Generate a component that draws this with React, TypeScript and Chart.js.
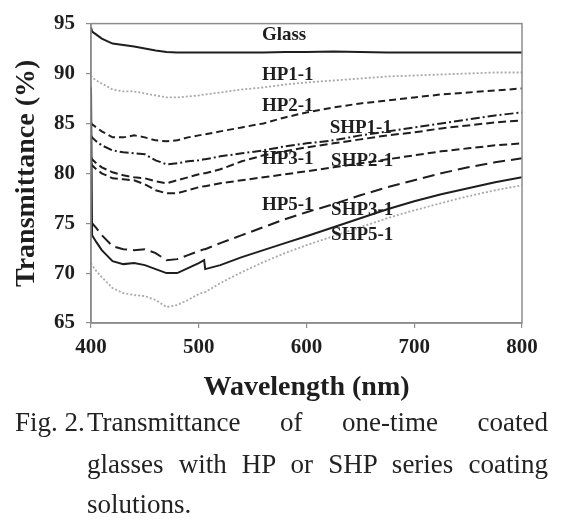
import React, { useEffect, useRef } from "react";
import { Chart, registerables } from "chart.js";

Chart.register(...registerables);

// ---- data ----
const wavelengths = [400, 401, 405, 410, 420, 430, 440, 450, 460, 470, 480, 490, 500, 505, 506, 520, 540, 560, 580, 600, 625, 650, 675, 700, 725, 750, 775, 800];

const glass = [94.6, 94.2, 93.9, 93.5, 93.0, 92.85, 92.7, 92.5, 92.3, 92.15, 92.1, 92.1, 92.1, 92.1, 92.1, 92.1, 92.1, 92.1, 92.15, 92.15, 92.2, 92.15, 92.1, 92.1, 92.1, 92.1, 92.1, 92.1];
const hp11 = [89.8, 89.6, 89.3, 89.0, 88.4, 88.2, 88.2, 88.0, 87.8, 87.6, 87.6, 87.7, 87.8, 87.9, 87.9, 88.1, 88.4, 88.6, 88.9, 89.1, 89.3, 89.5, 89.7, 89.8, 89.9, 90.0, 90.1, 90.1];
const hp21 = [85.1, 84.9, 84.6, 84.2, 83.6, 83.6, 83.8, 83.6, 83.3, 83.2, 83.3, 83.6, 83.8, 83.9, 83.9, 84.2, 84.6, 85.0, 85.6, 86.1, 86.6, 87.0, 87.3, 87.6, 87.9, 88.1, 88.3, 88.5];
const shp11 = [83.8, 83.6, 83.2, 82.8, 82.3, 82.1, 82.0, 81.9, 81.3, 80.9, 81.0, 81.2, 81.3, 81.4, 81.4, 81.7, 82.0, 82.3, 82.7, 83.0, 83.3, 83.8, 84.2, 84.6, 85.0, 85.4, 85.8, 86.1];
const hp31 = [81.6, 81.4, 81.0, 80.6, 80.1, 79.8, 79.6, 79.5, 79.2, 79.0, 79.3, 79.6, 79.9, 80.0, 80.0, 80.4, 81.2, 81.8, 82.2, 82.6, 83.0, 83.4, 83.8, 84.1, 84.5, 84.8, 85.1, 85.3];
const shp21 = [81.0, 80.8, 80.4, 80.0, 79.5, 79.4, 79.3, 78.9, 78.3, 78.0, 78.0, 78.3, 78.6, 78.7, 78.7, 79.0, 79.3, 79.6, 79.9, 80.2, 80.6, 81.0, 81.4, 81.8, 82.2, 82.5, 82.8, 83.0];
const hp51 = [75.2, 75.0, 74.5, 73.8, 72.7, 72.4, 72.3, 72.4, 72.0, 71.3, 71.4, 71.8, 72.2, 72.4, 72.4, 73.0, 73.8, 74.6, 75.4, 76.1, 76.9, 77.8, 78.6, 79.3, 80.0, 80.6, 81.1, 81.5];
const shp31 = [88.6, 73.8, 73.1, 72.3, 71.2, 70.9, 71.0, 70.8, 70.4, 70.0, 70.0, 70.5, 71.0, 71.3, 70.4, 70.8, 71.6, 72.3, 73.0, 73.7, 74.6, 75.5, 76.4, 77.2, 77.9, 78.5, 79.1, 79.6];
const shp51 = [71.0, 70.8, 70.2, 69.6, 68.5, 68.0, 67.8, 67.7, 67.3, 66.6, 66.8, 67.3, 67.9, 68.1, 68.1, 69.0, 70.1, 71.1, 72.0, 72.8, 73.7, 74.6, 75.5, 76.3, 77.0, 77.7, 78.3, 78.8];

const seriesNames = ["Glass", "HP1-1", "HP2-1", "SHP1-1", "HP3-1", "SHP2-1", "HP5-1", "SHP3-1", "SHP5-1"];
const seriesValues = [glass, hp11, hp21, shp11, hp31, shp21, hp51, shp31, shp51];

// in-plot series labels (wavelength, transmittance of label's left-middle)
const labelNames = ["Glass", "HP1-1", "HP2-1", "SHP1-1", "HP3-1", "SHP2-1", "HP5-1", "SHP3-1", "SHP5-1"];
const labelWl = [558.6, 558.6, 558.6, 621.5, 558.6, 622.8, 558.6, 622.8, 622.8];
const labelVal = [93.8, 89.85, 86.7, 84.5, 81.4, 81.2, 76.8, 76.3, 73.8];

const xTickValues = [400, 500, 600, 700, 800];
const yTickValues = [65, 70, 75, 80, 85, 90, 95];

const xTitle = "Wavelength (nm)";
const yTitle = "Transmittance (%)";
const captionLabel = "Fig. 2.";
const captionLines = ["Transmittance of one-time coated", "glasses with HP or SHP series coating", "solutions."];

// ---- styles ----
const BLACK = "#1e1e1e";
const GRAY = "#a9a9a9";
const styles: { color: string; width: number; dash: number[] }[] = [
  { color: BLACK, width: 2, dash: [] },
  { color: GRAY, width: 1.8, dash: [2, 2] },
  { color: BLACK, width: 2, dash: [7, 4] },
  { color: BLACK, width: 2, dash: [9, 3, 2, 3] },
  { color: BLACK, width: 2, dash: [8, 4] },
  { color: BLACK, width: 2, dash: [8, 4] },
  { color: BLACK, width: 2, dash: [12, 6] },
  { color: BLACK, width: 2, dash: [] },
  { color: GRAY, width: 1.8, dash: [2, 2] },
];

const SERIF = "'Liberation Serif', 'Times New Roman', serif";

const labelsPlugin = {
  id: "seriesLabels",
  afterDatasetsDraw(chart: any) {
    const { ctx, scales } = chart;
    ctx.save();
    ctx.font = `bold 19px ${SERIF}`;
    ctx.fillStyle = BLACK;
    ctx.textAlign = "left";
    ctx.textBaseline = "middle";
    labelNames.forEach((name, i) => {
      ctx.fillText(name, scales.x.getPixelForValue(labelWl[i]), scales.y.getPixelForValue(labelVal[i]));
    });
    ctx.restore();
  },
};

const framePlugin = {
  id: "frame",
  afterDraw(chart: any) {
    const { ctx, chartArea } = chart;
    ctx.save();
    ctx.strokeStyle = "#8c8c8c";
    ctx.lineWidth = 1.5;
    ctx.strokeRect(chartArea.left, chartArea.top, chartArea.right - chartArea.left, chartArea.bottom - chartArea.top);
    ctx.restore();
  },
};

export default function App() {
  const ref = useRef<HTMLCanvasElement | null>(null);

  useEffect(() => {
    if (!ref.current) return;
    const datasets = seriesNames.map((name, i) => ({
      label: name,
      data: wavelengths.map((w, j) => ({ x: w, y: seriesValues[i][j] })),
      borderColor: styles[i].color,
      borderWidth: styles[i].width,
      borderDash: styles[i].dash,
      pointRadius: 0,
      tension: 0,
      fill: false,
    }));

    const chart = new Chart(ref.current, {
      type: "line",
      data: { datasets },
      plugins: [labelsPlugin, framePlugin],
      options: {
        animation: false,
        responsive: false,
        devicePixelRatio: 1,
        layout: { padding: { top: 23, right: 42, left: 0, bottom: 0 } },
        plugins: { legend: { display: false }, tooltip: { enabled: false } },
        scales: {
          x: {
            type: "linear",
            min: 400,
            max: 800,
            afterFit: (s: any) => { s.height = 87; },
            afterBuildTicks: (s: any) => { s.ticks = xTickValues.map((v) => ({ value: v })); },
            ticks: { color: BLACK, padding: 7, font: { family: SERIF, size: 21, weight: "bold" } },
            grid: { display: true, drawOnChartArea: false, drawTicks: true, tickLength: 5, color: "#8c8c8c", lineWidth: 1.2 },
            border: { display: true, color: "#8c8c8c", width: 1.5 },
            title: { display: true, text: xTitle, color: BLACK, padding: { top: 0, bottom: 5 }, font: { family: SERIF, size: 28, weight: "bold" } },
          },
          y: {
            type: "linear",
            min: 65,
            max: 95,
            afterFit: (s: any) => { s.width = 91; },
            afterBuildTicks: (s: any) => { s.ticks = yTickValues.map((v) => ({ value: v })); },
            ticks: { color: BLACK, padding: 11, font: { family: SERIF, size: 21, weight: "bold" } },
            grid: { display: true, drawOnChartArea: false, drawTicks: true, tickLength: 5, color: "#8c8c8c", lineWidth: 1.2 },
            border: { display: true, color: "#8c8c8c", width: 1.5 },
            title: { display: true, text: yTitle, color: BLACK, padding: { top: 10, bottom: 0 }, font: { family: SERIF, size: 28, weight: "bold" } },
          },
        },
      } as any,
    });
    return () => chart.destroy();
  }, []);

  const capFont: React.CSSProperties = {
    position: "absolute",
    fontFamily: SERIF,
    fontSize: 27,
    lineHeight: "41px",
    height: 41,
    color: "#222",
    whiteSpace: "nowrap",
  };
  const lineTops = [402, 444, 484];

  return (
    <div style={{ position: "fixed", left: 0, top: 0, width: 564, height: 520, background: "#fff", overflow: "hidden" }}>
      <canvas ref={ref} width={564} height={410} style={{ display: "block", width: 564, height: 410 }} />
      <div style={{ ...capFont, left: 15, top: lineTops[0] }}>{captionLabel}</div>
      {captionLines.map((t, i) => (
        <div
          key={i}
          style={{
            ...capFont,
            left: 87,
            top: lineTops[i],
            width: 461,
            whiteSpace: "normal",
            textAlign: i < 2 ? "justify" : "left",
            textAlignLast: i < 2 ? "justify" : "left",
          }}
        >
          {t}
        </div>
      ))}
    </div>
  );
}
